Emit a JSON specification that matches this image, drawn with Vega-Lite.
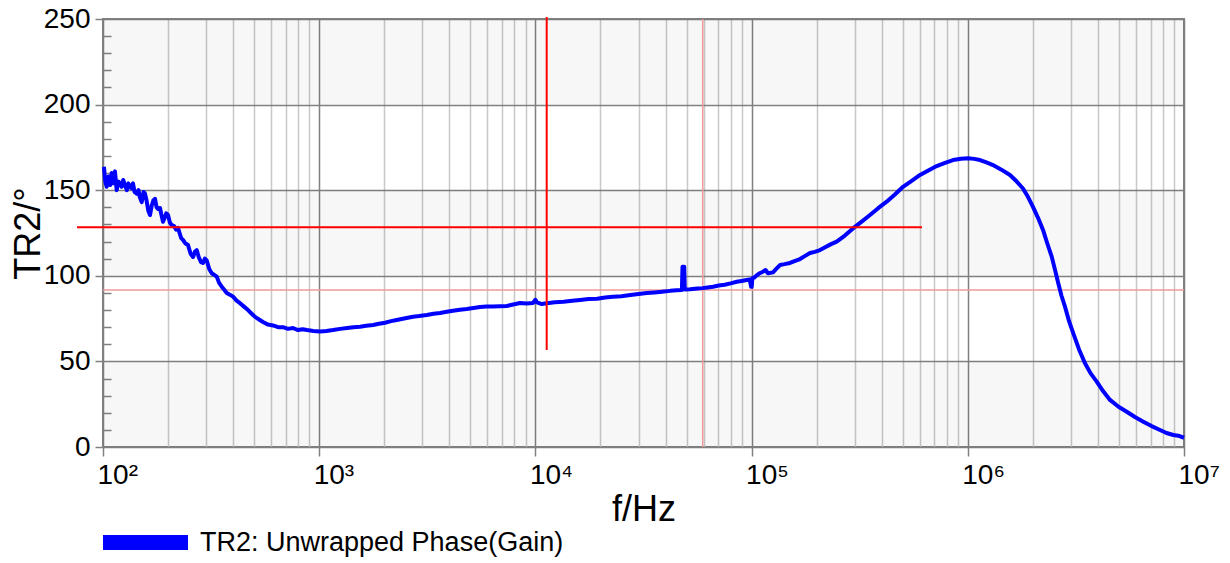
{
  "$schema": "https://vega.github.io/schema/vega-lite/v6.json",
  "width": 1081,
  "height": 428,
  "autosize": {"type": "none"},
  "padding": {"left": 103, "top": 19, "right": 46, "bottom": 116},
  "background": "#ffffff",
  "config": {
    "font": "Liberation Sans",
    "view": {"stroke": "#808080", "strokeWidth": 2}
  },
  "datasets": {
    "curve": [
      {"f":101,"v":163.7},{"f":102.5,"v":155},{"f":104,"v":152},{"f":106,"v":158},{"f":108,"v":153},{"f":109.7,"v":160},{"f":111.5,"v":154},{"f":113.6,"v":161},{"f":115.7,"v":150},{"f":118,"v":155},{"f":119.8,"v":154},{"f":122,"v":152},{"f":124,"v":156},{"f":126.4,"v":153},{"f":129,"v":150},{"f":131,"v":154},{"f":133.3,"v":152},{"f":135.5,"v":151},{"f":137.6,"v":154},{"f":140,"v":149},{"f":143.2,"v":148},{"f":146,"v":150},{"f":148,"v":146},{"f":151,"v":143},{"f":154,"v":149},{"f":156.4,"v":148},{"f":159,"v":144},{"f":162,"v":138},{"f":165,"v":135.5},{"f":168,"v":141},{"f":171,"v":144},{"f":174,"v":145},{"f":177,"v":140},{"f":180,"v":139},{"f":183.5,"v":139.6},{"f":186,"v":136},{"f":189.5,"v":131.6},{"f":193,"v":134},{"f":196,"v":136.5},{"f":199.8,"v":135.5},{"f":204,"v":131},{"f":207.8,"v":129.7},{"f":213,"v":129},{"f":218,"v":127},{"f":222.3,"v":128},{"f":226,"v":125},{"f":230,"v":122},{"f":234.4,"v":121},{"f":240,"v":119},{"f":247.3,"v":118},{"f":254,"v":113},{"f":260.9,"v":111},{"f":266,"v":114},{"f":271.3,"v":115},{"f":277,"v":111},{"f":284,"v":108},{"f":290.1,"v":107.5},{"f":296,"v":110},{"f":301.8,"v":109},{"f":310,"v":104},{"f":318.4,"v":101.5},{"f":327,"v":100.5},{"f":335.8,"v":99.5},{"f":344,"v":96},{"f":354.2,"v":93.6},{"f":363,"v":92},{"f":373.5,"v":90},{"f":386,"v":89},{"f":399.5,"v":87.8},{"f":415,"v":85.5},{"f":430.2,"v":84},{"f":449,"v":82},{"f":468.6,"v":80},{"f":486,"v":78},{"f":505,"v":76},{"f":527,"v":74.5},{"f":549.6,"v":73},{"f":580,"v":71.5},{"f":611.4,"v":71},{"f":645,"v":70},{"f":680,"v":70},{"f":717,"v":69},{"f":756.5,"v":69.5},{"f":798,"v":68.3},{"f":838,"v":68.8},{"f":878.2,"v":68.3},{"f":940,"v":67.8},{"f":1009,"v":67.4},{"f":1080,"v":67.8},{"f":1158,"v":68.3},{"f":1250,"v":69},{"f":1345,"v":69.5},{"f":1440,"v":70},{"f":1544,"v":70.3},{"f":1650,"v":70.8},{"f":1774,"v":71.3},{"f":1890,"v":72},{"f":2015,"v":72.6},{"f":2150,"v":73.5},{"f":2283,"v":74.2},{"f":2500,"v":75.2},{"f":2716,"v":76.1},{"f":2900,"v":76.5},{"f":3142,"v":77.1},{"f":3380,"v":77.8},{"f":3621,"v":78.3},{"f":3890,"v":79},{"f":4157,"v":79.6},{"f":4480,"v":80.2},{"f":4812,"v":80.6},{"f":5170,"v":81.2},{"f":5543,"v":81.8},{"f":5950,"v":82},{"f":6367,"v":82},{"f":6850,"v":82.2},{"f":7367,"v":82.4},{"f":7900,"v":83.2},{"f":8488,"v":84.1},{"f":9100,"v":83.8},{"f":9747,"v":84.1},{"f":10000,"v":86},{"f":10172,"v":84.5},{"f":10700,"v":83.5},{"f":11279,"v":84},{"f":12300,"v":84.6},{"f":13500,"v":84.8},{"f":14800,"v":85.4},{"f":16083,"v":85.9},{"f":17600,"v":86.4},{"f":19300,"v":86.6},{"f":21000,"v":87.3},{"f":22857,"v":87.8},{"f":25000,"v":88.1},{"f":27500,"v":88.8},{"f":30000,"v":89.4},{"f":32720,"v":89.9},{"f":35500,"v":90.3},{"f":38500,"v":90.7},{"f":42000,"v":91.2},{"f":45000,"v":91.5},{"f":47600,"v":91.7},{"f":47900,"v":105.3},{"f":48800,"v":105.3},{"f":49100,"v":92},{"f":52000,"v":92.2},{"f":56000,"v":92.6},{"f":59400,"v":92.8},{"f":62500,"v":93.2},{"f":66300,"v":93.6},{"f":70500,"v":94.3},{"f":75000,"v":94.8},{"f":80000,"v":95.6},{"f":85330,"v":96.5},{"f":90000,"v":97},{"f":94910,"v":97.5},{"f":98000,"v":97.8},{"f":99500,"v":93.6},{"f":100100,"v":93.6},{"f":100800,"v":98.6},{"f":103000,"v":99},{"f":106000,"v":100.4},{"f":109000,"v":101.5},{"f":112900,"v":102.4},{"f":116000,"v":103.4},{"f":119000,"v":101.5},{"f":125600,"v":102},{"f":130000,"v":104},{"f":135300,"v":106.3},{"f":142000,"v":106.8},{"f":150500,"v":107.5},{"f":158000,"v":108.6},{"f":167500,"v":109.8},{"f":176000,"v":111.5},{"f":186300,"v":113.3},{"f":196000,"v":114},{"f":207200,"v":115},{"f":220000,"v":116.8},{"f":233000,"v":118.5},{"f":247500,"v":120},{"f":270000,"v":123.5},{"f":294400,"v":127.7},{"f":322000,"v":131.5},{"f":352900,"v":135.5},{"f":385000,"v":139.5},{"f":421500,"v":143.3},{"f":460000,"v":147.5},{"f":501600,"v":152},{"f":550000,"v":155.5},{"f":601100,"v":158.9},{"f":660000,"v":161.7},{"f":718100,"v":164.1},{"f":785000,"v":166},{"f":854400,"v":167.6},{"f":930000,"v":168.4},{"f":1005000,"v":168.6},{"f":1070000,"v":168.3},{"f":1139000,"v":167.6},{"f":1220000,"v":166.2},{"f":1308000,"v":164.7},{"f":1430000,"v":162},{"f":1567000,"v":158.9},{"f":1680000,"v":155.2},{"f":1800000,"v":151},{"f":1900000,"v":146},{"f":2002000,"v":140.3},{"f":2110000,"v":134},{"f":2228000,"v":126.8},{"f":2330000,"v":119},{"f":2444000,"v":111.2},{"f":2530000,"v":103.6},{"f":2621000,"v":95.6},{"f":2710000,"v":88.5},{"f":2815000,"v":82},{"f":2940000,"v":73.5},{"f":3076000,"v":66.4},{"f":3270000,"v":57},{"f":3484000,"v":48.9},{"f":3700000,"v":43},{"f":3947000,"v":38.2},{"f":4230000,"v":32.5},{"f":4547000,"v":27.5},{"f":4980000,"v":23.5},{"f":5433000,"v":20.6},{"f":5930000,"v":17.5},{"f":6484000,"v":14.8},{"f":7080000,"v":12.2},{"f":7745000,"v":9.9},{"f":8300000,"v":8.2},{"f":8923000,"v":7},{"f":9400000,"v":6.6},{"f":10000000,"v":5.4}
    ]
  },
  "resolve": {"axis": {"x": "independent", "y": "independent"}},
  "layer": [
    {
      "data": {"values": [{"lo":0,"hi":50},{"lo":100,"hi":150},{"lo":200,"hi":250}]},
      "mark": {"type": "rect", "fill": "#000000", "fillOpacity": 0.03},
      "encoding": {
        "y": {"field": "lo", "type": "quantitative", "scale": {"domain": [0, 250], "nice": false, "zero": false}, "axis": null},
        "y2": {"field": "hi"}
      }
    },
    {
      "data": {"values": [{"f": 59400, "v0": 0, "v1": 250}]},
      "mark": {"type": "rule", "color": "#f09a9a", "strokeWidth": 1.5},
      "encoding": {
        "x": {"field": "f", "type": "quantitative", "scale": {"type": "log", "domain": [100, 10000000], "nice": false},
              "axis": {"orient": "top", "values": [200,300,400,500,600,700,800,900,2000,3000,4000,5000,6000,7000,8000,9000,20000,30000,40000,50000,60000,70000,80000,90000,200000,300000,400000,500000,600000,700000,800000,900000,2000000,3000000,4000000,5000000,6000000,7000000,8000000,9000000],
                       "grid": true, "gridColor": "#c8c8c8", "gridWidth": 1.5, "labels": false, "ticks": false, "domain": false, "title": null}},
        "y": {"field": "v0", "type": "quantitative", "axis": null},
        "y2": {"field": "v1"}
      }
    },
    {
      "data": {"values": [{"v": 91.7, "f0": 100, "f1": 10000000}]},
      "mark": {"type": "rule", "color": "#f09a9a", "strokeWidth": 1.5},
      "encoding": {
        "y": {"field": "v", "type": "quantitative",
              "axis": {"orient": "left", "values": [10,20,30,40,60,70,80,90,110,120,130,140,160,170,180,190,210,220,230,240],
                       "grid": false, "ticks": true, "tickSize": -8, "tickColor": "#808080", "tickWidth": 1.5, "labels": false, "domain": false, "title": null}},
        "x": {"field": "f0", "type": "quantitative", "axis": null},
        "x2": {"field": "f1"}
      }
    },
    {
      "data": {"name": "curve"},
      "mark": {"type": "line", "strokeWidth": 4, "strokeJoin": "round"},
      "encoding": {
        "x": {"field": "f", "type": "quantitative",
              "axis": {"orient": "bottom", "values": [100,1000,10000,100000,1000000,10000000],
                       "labelExpr": "datum.value == 100 ? '10²' : datum.value == 1000 ? '10³' : datum.value == 10000 ? '10⁴' : datum.value == 100000 ? '10⁵' : datum.value == 1000000 ? '10⁶' : '10⁷'",
                       "grid": true, "gridColor": "#808080", "gridWidth": 1.5, "domain": false,
                       "ticks": true, "tickSize": 9, "tickColor": "#808080", "tickWidth": 1.5,
                       "labelFontSize": 28, "labelColor": "#000000", "labelAlign": "left", "labelOffset": -6, "labelPadding": 5, "labelFlush": false, "labelOverlap": false, "labelBound": false,
                       "title": "f/Hz", "titleFontSize": 36, "titleFontWeight": "normal", "titleColor": "#000000", "titlePadding": 3}},
        "y": {"field": "v", "type": "quantitative",
              "axis": {"orient": "left", "values": [0,50,100,150,200,250],
                       "grid": true, "gridColor": "#808080", "gridWidth": 1.5, "domain": false,
                       "ticks": true, "tickSize": 8, "tickColor": "#808080", "tickWidth": 1.5,
                       "labelFontSize": 28, "labelColor": "#000000", "labelPadding": 5,
                       "title": "TR2/°", "titleFontSize": 36, "titleFontWeight": "normal", "titleColor": "#000000", "titlePadding": -4}},
        "color": {"datum": "TR2: Unwrapped Phase(Gain)", "type": "nominal", "scale": {"range": ["#0000ff"]},
                  "legend": {"orient": "none", "legendX": 0, "legendY": 481, "title": null, "padding": 0,
                             "symbolType": "M-1,-0.176L1,-0.176L1,0.176L-1,0.176Z", "symbolSize": 7225,
                             "symbolFillColor": "#0000ff", "symbolStrokeColor": "#0000ff", "symbolStrokeWidth": 0,
                             "labelFontSize": 27, "labelColor": "#000000", "labelOffset": 12, "labelLimit": 600,
                             "encode": {"symbols": {"update": {"fill": {"value": "#0000ff"}, "stroke": {"value": "#0000ff"}, "strokeWidth": {"value": 0}, "opacity": {"value": 1}}}}}}
      }
    },
    {
      "data": {"values": [{"f": 11279, "v0": 56.7, "v1": 251.2}]},
      "mark": {"type": "rule", "color": "#ff0000", "strokeWidth": 2},
      "encoding": {
        "x": {"field": "f", "type": "quantitative", "axis": null},
        "y": {"field": "v0", "type": "quantitative", "axis": null},
        "y2": {"field": "v1"}
      }
    },
    {
      "data": {"values": [{"v": 128.3, "f0": 75.8, "f1": 614000}]},
      "mark": {"type": "rule", "color": "#ff0000", "strokeWidth": 2},
      "encoding": {
        "y": {"field": "v", "type": "quantitative", "axis": null},
        "x": {"field": "f0", "type": "quantitative", "axis": null},
        "x2": {"field": "f1"}
      }
    }
  ]
}
